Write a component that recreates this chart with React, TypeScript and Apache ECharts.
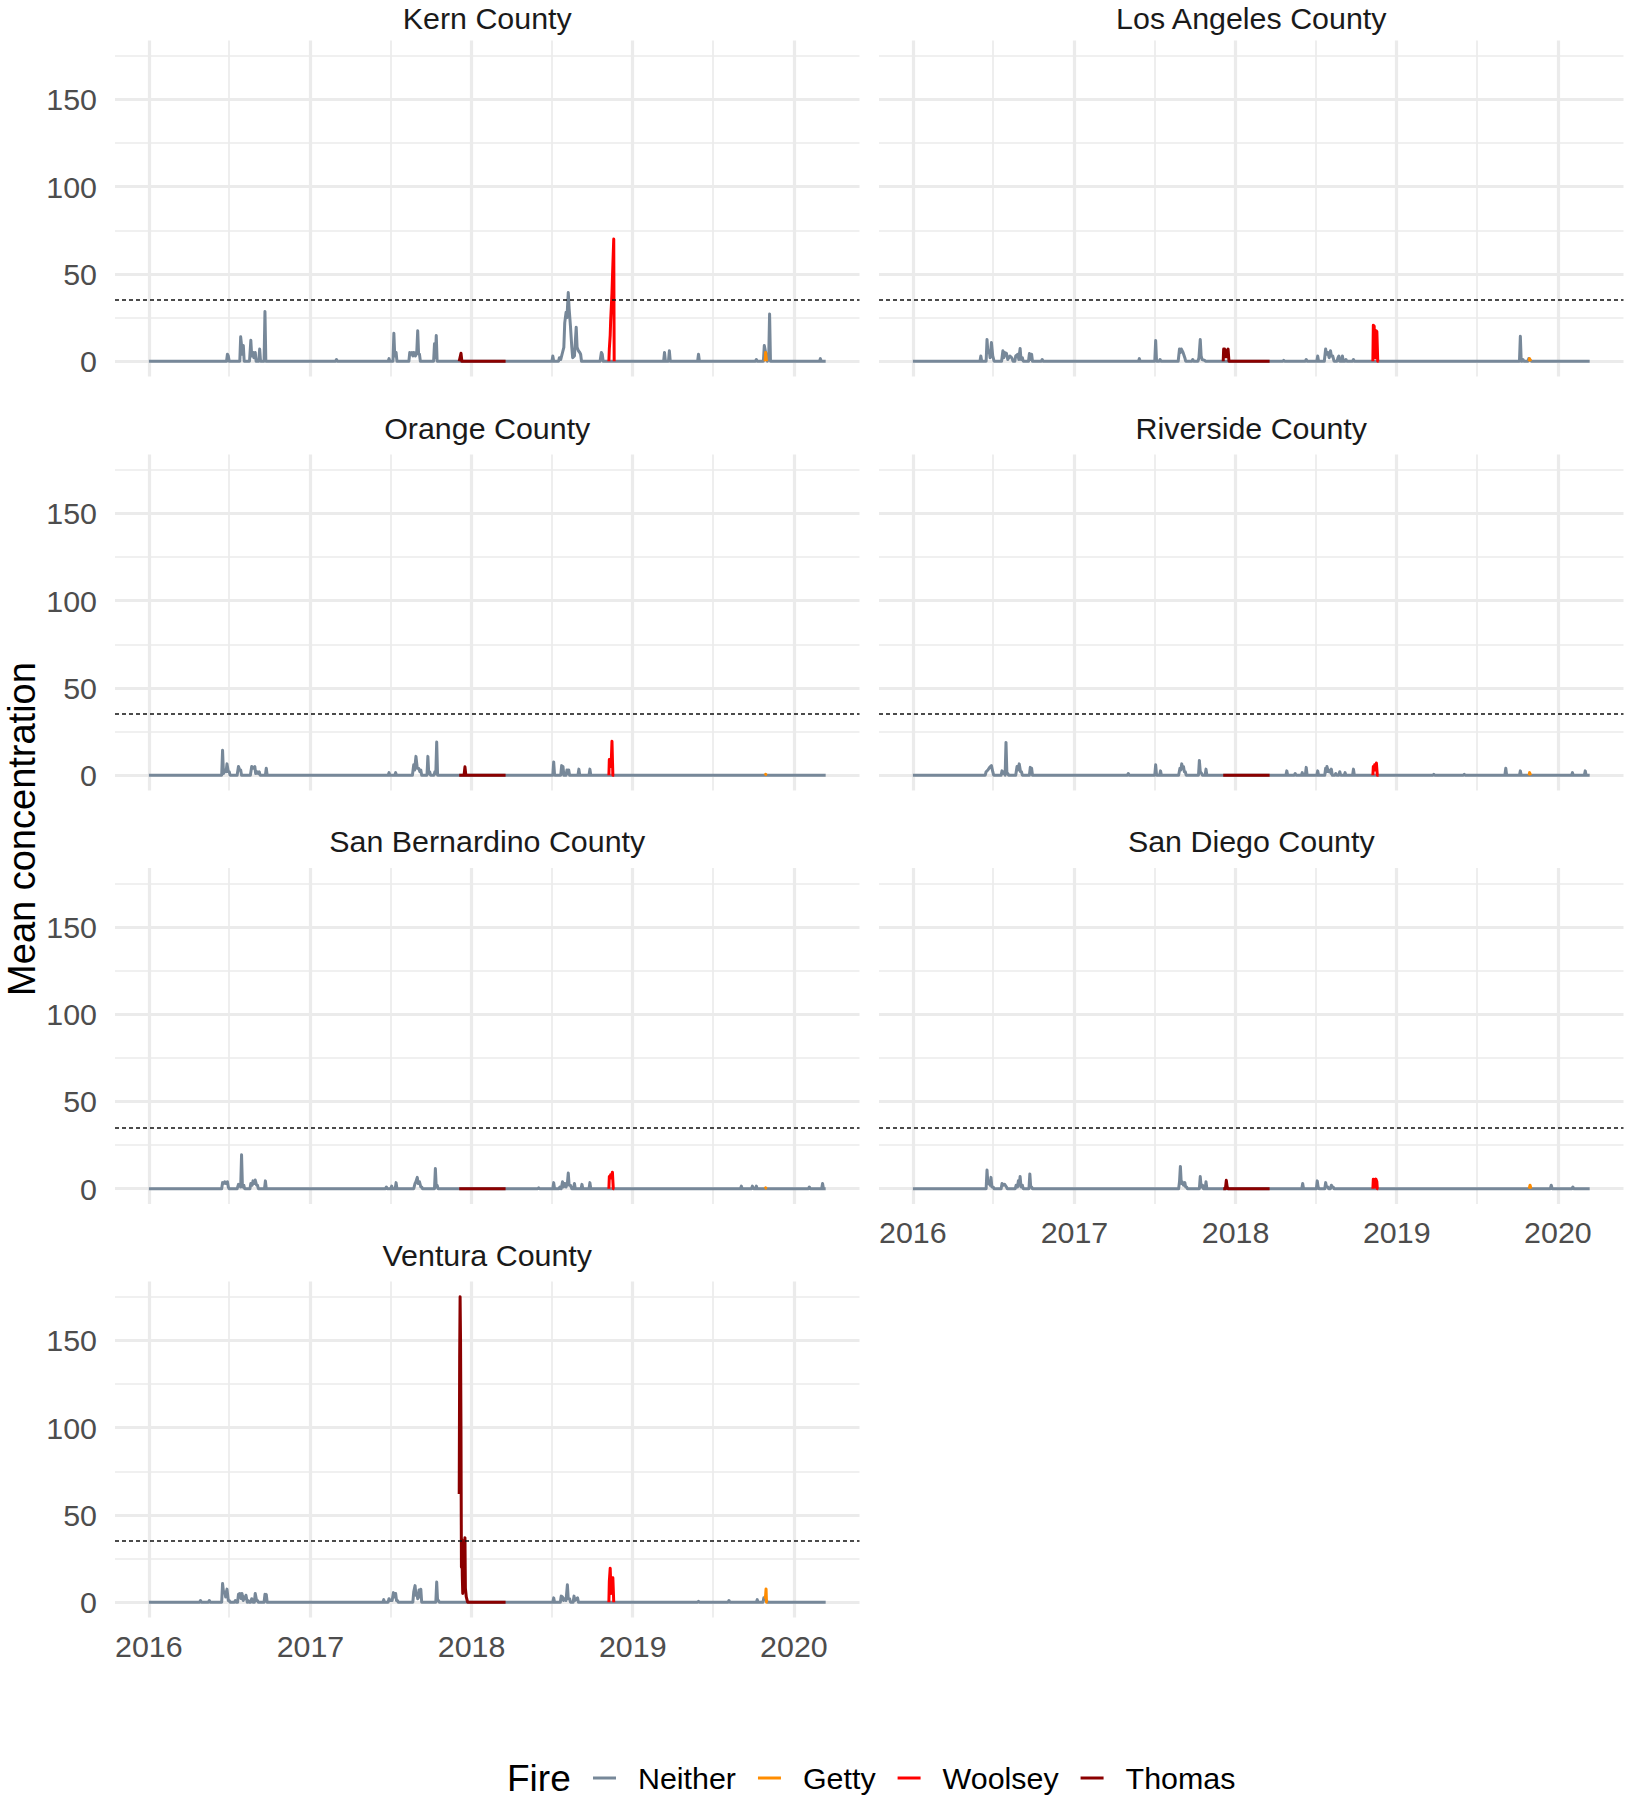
import React, { useEffect, useRef } from "react";
import * as echarts from "echarts";

type Pt = [string, number];

// ---------------- data ----------------
const counties = [
  "Kern County",
  "Los Angeles County",
  "Orange County",
  "Riverside County",
  "San Bernardino County",
  "San Diego County",
  "Ventura County",
];
const fires = ["Neither", "Getty", "Woolsey", "Thomas"];
const fireColors = ["#778899", "#FF8C00", "#FF0000", "#8B0000"];
const yearTicks = ["2016-01-01", "2017-01-01", "2018-01-01", "2019-01-01", "2020-01-01"];
const midYearTicks = ["2016-07-01", "2017-07-01", "2018-07-01", "2019-07-01"];
const yMajorTicks = [0, 50, 100, 150];
const yMinorTicks = [25, 75, 125, 175];
const standardLine = 35;
const axisTitle = "Mean concentration";
const legendTitle = "Fire";

const kernNeither: Pt[] = [
  ["2016-01-01", 0],
  ["2016-06-25", 0], ["2016-06-27", 4], ["2016-06-29", 3], ["2016-07-01", 0],
  ["2016-07-25", 0], ["2016-07-27", 14], ["2016-07-29", 9], ["2016-07-31", 4], ["2016-08-02", 9], ["2016-08-04", 0],
  ["2016-08-16", 0], ["2016-08-19", 12], ["2016-08-21", 3], ["2016-08-24", 5], ["2016-08-26", 2], ["2016-08-29", 5], ["2016-08-31", 0],
  ["2016-09-06", 0], ["2016-09-08", 7], ["2016-09-10", 0],
  ["2016-09-18", 0], ["2016-09-20", 28.5], ["2016-09-22", 0],
  ["2017-02-27", 0], ["2017-03-01", 1], ["2017-03-03", 0],
  ["2017-06-26", 0], ["2017-06-28", 1.5], ["2017-06-30", 0],
  ["2017-07-07", 0], ["2017-07-09", 16], ["2017-07-11", 3], ["2017-07-14", 5], ["2017-07-16", 0],
  ["2017-08-12", 0], ["2017-08-14", 5], ["2017-08-17", 4], ["2017-08-19", 5], ["2017-08-21", 3], ["2017-08-23", 5], ["2017-08-27", 3], ["2017-08-30", 6], ["2017-09-01", 17.5], ["2017-09-03", 4], ["2017-09-05", 4], ["2017-09-07", 0],
  ["2017-10-07", 0], ["2017-10-09", 10], ["2017-10-11", 2], ["2017-10-13", 14.7], ["2017-10-15", 0],
  ["2018-07-02", 0], ["2018-07-04", 3], ["2018-07-06", 0],
  ["2018-07-17", 0], ["2018-07-19", 2], ["2018-07-22", 1], ["2018-07-26", 5], ["2018-07-29", 8], ["2018-07-31", 22], ["2018-08-03", 28], ["2018-08-05", 25], ["2018-08-08", 39.4], ["2018-08-10", 30], ["2018-08-13", 20], ["2018-08-16", 8], ["2018-08-18", 2], ["2018-08-22", 3], ["2018-08-26", 19.5], ["2018-08-28", 8], ["2018-08-31", 6], ["2018-09-03", 5], ["2018-09-05", 4], ["2018-09-07", 0],
  ["2018-10-19", 0], ["2018-10-22", 5], ["2018-10-24", 4], ["2018-10-26", 0],
  ["2019-03-12", 0], ["2019-03-14", 5], ["2019-03-16", 0], ["2019-03-23", 0], ["2019-03-25", 6], ["2019-03-27", 0],
  ["2019-05-28", 0], ["2019-05-30", 4], ["2019-06-01", 0],
  ["2019-10-06", 0], ["2019-10-08", 1], ["2019-10-10", 0],
  ["2019-10-24", 0], ["2019-10-26", 9], ["2019-11-02", 0], ["2019-11-05", 2], ["2019-11-07", 27], ["2019-11-09", 0],
  ["2020-02-28", 0], ["2020-03-01", 1.5], ["2020-03-03", 0], ["2020-03-13", 0],
];
const kernGetty: Pt[] = [["2019-10-28", 0], ["2019-10-29", 5], ["2019-10-31", 0], ["2019-11-01", 0]];
const kernWoolsey: Pt[] = [
  ["2018-11-08", 0], ["2018-11-09", 7], ["2018-11-11", 15], ["2018-11-12", 23], ["2018-11-15", 39], ["2018-11-17", 55], ["2018-11-19", 70], ["2018-11-20", 0], ["2018-11-21", 0],
];
const kernThomas: Pt[] = [["2017-12-04", 0], ["2017-12-08", 4.6], ["2017-12-10", 0], ["2018-03-19", 0]];

const laNeither: Pt[] = [
  ["2016-01-01", 0],
  ["2016-06-01", 0], ["2016-06-03", 3], ["2016-06-05", 0],
  ["2016-06-15", 0], ["2016-06-17", 12.4], ["2016-06-19", 5], ["2016-06-22", 6], ["2016-06-24", 2], ["2016-06-27", 10.7], ["2016-06-30", 3], ["2016-07-03", 0],
  ["2016-07-20", 0], ["2016-07-23", 6], ["2016-07-25", 2], ["2016-07-27", 5], ["2016-07-31", 4.5], ["2016-08-03", 1], ["2016-08-08", 3], ["2016-08-12", 2], ["2016-08-15", 0],
  ["2016-08-19", 0], ["2016-08-21", 3], ["2016-08-26", 4], ["2016-08-28", 1], ["2016-08-31", 7.3], ["2016-09-02", 1], ["2016-09-05", 2], ["2016-09-07", 0],
  ["2016-09-19", 0], ["2016-09-21", 4.4], ["2016-09-24", 1], ["2016-09-26", 4], ["2016-09-28", 0],
  ["2016-10-18", 0], ["2016-10-20", 1], ["2016-10-22", 0],
  ["2017-05-26", 0], ["2017-05-28", 1.5], ["2017-05-30", 0],
  ["2017-07-02", 0], ["2017-07-04", 11.9], ["2017-07-06", 0], ["2017-07-12", 0], ["2017-07-14", 1], ["2017-07-16", 0],
  ["2017-08-24", 0], ["2017-08-27", 7], ["2017-08-29", 5], ["2017-08-31", 7], ["2017-09-04", 5], ["2017-09-08", 2], ["2017-09-10", 0],
  ["2017-09-24", 0], ["2017-09-26", 1], ["2017-09-28", 0],
  ["2017-10-08", 0], ["2017-10-10", 2], ["2017-10-13", 12.4], ["2017-10-15", 3], ["2017-10-17", 1], ["2017-10-23", 0.5], ["2017-10-25", 0],
  ["2018-04-18", 0], ["2018-04-20", 0.5], ["2018-04-22", 0],
  ["2018-06-08", 0], ["2018-06-10", 1], ["2018-06-12", 0],
  ["2018-07-04", 0], ["2018-07-06", 3], ["2018-07-08", 0],
  ["2018-07-21", 0], ["2018-07-24", 7], ["2018-07-26", 4], ["2018-07-29", 5], ["2018-08-01", 2], ["2018-08-04", 6], ["2018-08-06", 3], ["2018-08-09", 3], ["2018-08-12", 0],
  ["2018-08-19", 0], ["2018-08-21", 2], ["2018-08-23", 3], ["2018-08-25", 0], ["2018-08-29", 0], ["2018-08-31", 3], ["2018-09-02", 0],
  ["2018-09-06", 0], ["2018-09-08", 1], ["2018-09-10", 0], ["2018-09-23", 0], ["2018-09-25", 1], ["2018-09-27", 0],
  ["2019-10-06", 0], ["2019-10-08", 14.3], ["2019-10-10", 0], ["2019-10-12", 0], ["2019-10-14", 1], ["2019-10-16", 0],
  ["2019-10-25", 0], ["2019-10-27", 1.5], ["2019-11-02", 0],
  ["2020-03-13", 0],
];
const laGetty: Pt[] = [["2019-10-28", 0], ["2019-10-29", 1.5], ["2019-10-31", 0], ["2019-11-01", 0]];
const laWoolsey: Pt[] = [
  ["2018-11-08", 0], ["2018-11-09", 20.6], ["2018-11-11", 20], ["2018-11-12", 5], ["2018-11-14", 2], ["2018-11-15", 17.5], ["2018-11-17", 17], ["2018-11-19", 0], ["2018-11-21", 0],
];
const laThomas: Pt[] = [
  ["2017-12-04", 0], ["2017-12-05", 7], ["2017-12-07", 7], ["2017-12-09", 2.5], ["2017-12-11", 2.5], ["2017-12-13", 6], ["2017-12-15", 7], ["2017-12-17", 0], ["2018-03-19", 0],
];

const orangeNeither: Pt[] = [
  ["2016-01-01", 0],
  ["2016-06-14", 0], ["2016-06-16", 14.3], ["2016-06-18", 1], ["2016-06-21", 3], ["2016-06-24", 2], ["2016-06-26", 6.5], ["2016-06-29", 2], ["2016-07-01", 2], ["2016-07-03", 0],
  ["2016-07-19", 0], ["2016-07-22", 5], ["2016-07-25", 3], ["2016-07-27", 3], ["2016-07-29", 0],
  ["2016-08-18", 0], ["2016-08-21", 5], ["2016-08-24", 4], ["2016-08-28", 5], ["2016-08-30", 1], ["2016-09-02", 2], ["2016-09-05", 1], ["2016-09-07", 2], ["2016-09-09", 0],
  ["2016-09-21", 0], ["2016-09-23", 4], ["2016-09-25", 0],
  ["2017-06-26", 0], ["2017-06-28", 1.5], ["2017-06-30", 0], ["2017-07-11", 0], ["2017-07-13", 1.5], ["2017-07-15", 0],
  ["2017-08-20", 0], ["2017-08-23", 6], ["2017-08-25", 3], ["2017-08-28", 10.8], ["2017-08-31", 4], ["2017-09-03", 4], ["2017-09-06", 2], ["2017-09-08", 3], ["2017-09-10", 0],
  ["2017-09-22", 0], ["2017-09-24", 10.8], ["2017-09-26", 1], ["2017-09-28", 2], ["2017-09-30", 0],
  ["2017-10-08", 0], ["2017-10-10", 2], ["2017-10-12", 1], ["2017-10-14", 19], ["2017-10-16", 0],
  ["2018-07-04", 0], ["2018-07-06", 7.6], ["2018-07-08", 0],
  ["2018-07-22", 0], ["2018-07-24", 5.5], ["2018-07-26", 2], ["2018-07-27", 5], ["2018-07-29", 0],
  ["2018-08-03", 0], ["2018-08-05", 3], ["2018-08-07", 1], ["2018-08-09", 3], ["2018-08-11", 0],
  ["2018-08-30", 0], ["2018-09-01", 3.5], ["2018-09-03", 0], ["2018-09-24", 0], ["2018-09-26", 3.5], ["2018-09-28", 0],
  ["2020-03-13", 0],
];
const orangeGetty: Pt[] = [["2019-10-28", 0], ["2019-10-29", 0.5], ["2019-10-31", 0]];
const orangeWoolsey: Pt[] = [
  ["2018-11-08", 0], ["2018-11-09", 9], ["2018-11-11", 9], ["2018-11-13", 5], ["2018-11-15", 19.5], ["2018-11-17", 0], ["2018-11-20", 0],
];
const orangeThomas: Pt[] = [["2017-12-04", 0], ["2017-12-15", 0], ["2017-12-17", 4.8], ["2017-12-19", 0], ["2018-03-19", 0]];

const riversideNeither: Pt[] = [
  ["2016-01-01", 0],
  ["2016-06-13", 0], ["2016-06-15", 2], ["2016-06-19", 3], ["2016-06-23", 4.5], ["2016-06-27", 5.5], ["2016-06-30", 2], ["2016-07-02", 0],
  ["2016-07-19", 0], ["2016-07-21", 2.5], ["2016-07-24", 1], ["2016-07-26", 2], ["2016-07-28", 0], ["2016-07-30", 18.8], ["2016-08-01", 1], ["2016-08-03", 1], ["2016-08-05", 0],
  ["2016-08-21", 0], ["2016-08-24", 5], ["2016-08-26", 3], ["2016-08-29", 6.5], ["2016-09-01", 2], ["2016-09-03", 2], ["2016-09-05", 0],
  ["2016-09-21", 0], ["2016-09-23", 4.5], ["2016-09-25", 3], ["2016-09-26", 4], ["2016-09-28", 0],
  ["2017-05-01", 0], ["2017-05-03", 1], ["2017-05-05", 0],
  ["2017-07-02", 0], ["2017-07-04", 6], ["2017-07-06", 0], ["2017-07-13", 0], ["2017-07-15", 2.5], ["2017-07-17", 0],
  ["2017-08-25", 0], ["2017-08-28", 4], ["2017-08-30", 3], ["2017-09-01", 6.5], ["2017-09-03", 4], ["2017-09-05", 5], ["2017-09-07", 2], ["2017-09-09", 2], ["2017-09-11", 0],
  ["2017-10-09", 0], ["2017-10-11", 8.5], ["2017-10-13", 2], ["2017-10-16", 1], ["2017-10-18", 0], ["2017-10-24", 0], ["2017-10-26", 3.5], ["2017-10-28", 0],
  ["2018-04-25", 0], ["2018-04-27", 2.5], ["2018-04-29", 0], ["2018-05-14", 0], ["2018-05-16", 1], ["2018-05-18", 0],
  ["2018-05-30", 0], ["2018-06-01", 1.5], ["2018-06-03", 0], ["2018-06-08", 0], ["2018-06-10", 4.5], ["2018-06-12", 0],
  ["2018-07-04", 0], ["2018-07-06", 2.5], ["2018-07-08", 0],
  ["2018-07-22", 0], ["2018-07-24", 4], ["2018-07-26", 2], ["2018-07-27", 5], ["2018-07-30", 2], ["2018-08-03", 3], ["2018-08-05", 1], ["2018-08-06", 3.5], ["2018-08-08", 0],
  ["2018-08-14", 0], ["2018-08-16", 1], ["2018-08-18", 0], ["2018-08-23", 0], ["2018-08-25", 2], ["2018-08-27", 0],
  ["2018-09-04", 0], ["2018-09-06", 1.5], ["2018-09-08", 0], ["2018-09-23", 0], ["2018-09-25", 3.5], ["2018-09-27", 0],
  ["2019-03-24", 0], ["2019-03-26", 0.5], ["2019-03-28", 0], ["2019-06-01", 0], ["2019-06-03", 0.5], ["2019-06-05", 0],
  ["2019-09-03", 0], ["2019-09-05", 4], ["2019-09-07", 0], ["2019-10-06", 0], ["2019-10-08", 2.5], ["2019-10-10", 0],
  ["2020-02-01", 0], ["2020-02-03", 1.5], ["2020-02-05", 0], ["2020-03-01", 0], ["2020-03-03", 2.5], ["2020-03-05", 0], ["2020-03-13", 0],
];
const riversideGetty: Pt[] = [["2019-10-28", 0], ["2019-10-29", 1.5], ["2019-10-31", 0]];
const riversideWoolsey: Pt[] = [
  ["2018-11-08", 0], ["2018-11-09", 5], ["2018-11-11", 3], ["2018-11-12", 6], ["2018-11-14", 3], ["2018-11-16", 7], ["2018-11-18", 0], ["2018-11-21", 0],
];
const riversideThomas: Pt[] = [["2017-12-04", 0], ["2018-03-19", 0]];

const sbNeither: Pt[] = [
  ["2016-01-01", 0],
  ["2016-06-14", 0], ["2016-06-16", 3.5], ["2016-06-19", 3], ["2016-06-21", 4], ["2016-06-24", 3], ["2016-06-27", 4], ["2016-06-29", 1], ["2016-07-01", 0],
  ["2016-07-19", 0], ["2016-07-22", 2.5], ["2016-07-25", 2], ["2016-07-27", 1], ["2016-07-29", 19.5], ["2016-07-31", 1], ["2016-08-03", 2], ["2016-08-05", 0],
  ["2016-08-17", 0], ["2016-08-19", 3], ["2016-08-22", 2], ["2016-08-24", 4.5], ["2016-08-27", 3], ["2016-08-29", 5], ["2016-09-01", 2], ["2016-09-03", 2], ["2016-09-05", 0],
  ["2016-09-19", 0], ["2016-09-21", 4.5], ["2016-09-23", 0],
  ["2017-06-20", 0], ["2017-06-22", 1], ["2017-06-24", 0], ["2017-07-02", 0], ["2017-07-04", 1.5], ["2017-07-06", 0], ["2017-07-12", 0], ["2017-07-14", 3.5], ["2017-07-16", 0],
  ["2017-08-23", 0], ["2017-08-26", 3], ["2017-08-28", 4], ["2017-08-31", 6.5], ["2017-09-02", 3], ["2017-09-05", 4], ["2017-09-08", 1], ["2017-09-10", 1], ["2017-09-12", 0],
  ["2017-10-09", 0], ["2017-10-11", 11.6], ["2017-10-13", 1], ["2017-10-15", 2], ["2017-10-17", 0],
  ["2018-05-31", 0], ["2018-06-02", 0.5], ["2018-06-04", 0],
  ["2018-07-04", 0], ["2018-07-06", 3.5], ["2018-07-08", 0], ["2018-07-18", 0], ["2018-07-20", 1], ["2018-07-23", 0], ["2018-07-26", 4], ["2018-07-28", 1], ["2018-07-31", 3], ["2018-08-03", 1], ["2018-08-06", 3], ["2018-08-08", 9], ["2018-08-10", 2], ["2018-08-13", 2], ["2018-08-16", 0],
  ["2018-08-20", 0], ["2018-08-22", 3], ["2018-08-24", 0], ["2018-09-06", 0], ["2018-09-08", 2.5], ["2018-09-10", 0], ["2018-09-24", 0], ["2018-09-26", 3.5], ["2018-09-28", 0],
  ["2019-09-02", 0], ["2019-09-04", 1.5], ["2019-09-06", 0], ["2019-09-27", 0], ["2019-09-29", 1.5], ["2019-10-02", 0], ["2019-10-06", 0], ["2019-10-08", 1.5], ["2019-10-10", 0],
  ["2020-02-03", 0], ["2020-02-05", 1], ["2020-02-07", 0], ["2020-03-04", 0], ["2020-03-06", 3], ["2020-03-08", 0], ["2020-03-13", 0],
];
const sbGetty: Pt[] = [["2019-10-28", 0], ["2019-10-29", 0.5], ["2019-10-31", 0]];
const sbWoolsey: Pt[] = [
  ["2018-11-08", 0], ["2018-11-09", 7], ["2018-11-11", 6], ["2018-11-12", 8], ["2018-11-14", 7], ["2018-11-16", 9.5], ["2018-11-18", 0], ["2018-11-20", 0],
];
const sbThomas: Pt[] = [["2017-12-04", 0], ["2018-03-19", 0]];

const sdNeither: Pt[] = [
  ["2016-01-01", 0],
  ["2016-06-15", 0], ["2016-06-17", 10.7], ["2016-06-19", 3], ["2016-06-22", 3], ["2016-06-24", 2], ["2016-06-26", 6.5], ["2016-06-28", 1], ["2016-07-01", 1], ["2016-07-03", 0],
  ["2016-07-19", 0], ["2016-07-21", 3], ["2016-07-24", 2], ["2016-07-27", 2.5], ["2016-07-31", 1], ["2016-08-02", 0],
  ["2016-08-20", 0], ["2016-08-22", 2], ["2016-08-25", 1], ["2016-08-27", 4.5], ["2016-08-29", 2], ["2016-08-31", 7], ["2016-09-02", 1], ["2016-09-05", 2], ["2016-09-07", 0],
  ["2016-09-20", 0], ["2016-09-22", 8.5], ["2016-09-24", 1], ["2016-09-26", 1], ["2016-09-28", 0],
  ["2017-08-25", 0], ["2017-08-27", 4], ["2017-08-29", 12.8], ["2017-08-31", 3], ["2017-09-02", 4], ["2017-09-05", 2], ["2017-09-08", 3.5], ["2017-09-10", 1], ["2017-09-12", 1], ["2017-09-14", 0],
  ["2017-10-11", 0], ["2017-10-13", 7], ["2017-10-15", 1], ["2017-10-18", 2], ["2017-10-20", 0], ["2017-10-24", 0], ["2017-10-26", 4], ["2017-10-28", 0],
  ["2018-05-31", 0], ["2018-06-02", 3], ["2018-06-04", 0],
  ["2018-07-03", 0], ["2018-07-05", 4.5], ["2018-07-07", 1], ["2018-07-09", 0], ["2018-07-22", 0], ["2018-07-24", 3.5], ["2018-07-26", 1], ["2018-07-29", 1], ["2018-07-31", 0],
  ["2018-08-04", 0], ["2018-08-06", 2], ["2018-08-08", 1], ["2018-08-10", 1], ["2018-08-12", 0],
  ["2019-12-15", 0], ["2019-12-17", 2], ["2019-12-19", 0],
  ["2020-02-02", 0], ["2020-02-04", 1], ["2020-02-06", 0], ["2020-03-13", 0],
];
const sdGetty: Pt[] = [["2019-10-28", 0], ["2019-10-30", 2], ["2019-11-01", 0]];
const sdWoolsey: Pt[] = [
  ["2018-11-08", 0], ["2018-11-09", 5.5], ["2018-11-11", 5], ["2018-11-13", 1], ["2018-11-15", 5.5], ["2018-11-17", 4], ["2018-11-18", 0], ["2018-11-20", 0],
];
const sdThomas: Pt[] = [["2017-12-04", 0], ["2017-12-09", 0], ["2017-12-11", 4.8], ["2017-12-13", 1], ["2017-12-15", 0], ["2018-03-19", 0]];

const venturaNeither: Pt[] = [
  ["2016-01-01", 0],
  ["2016-04-25", 0], ["2016-04-27", 1], ["2016-04-29", 0], ["2016-05-15", 0], ["2016-05-17", 1], ["2016-05-19", 0],
  ["2016-06-14", 0], ["2016-06-16", 10.7], ["2016-06-18", 6], ["2016-06-21", 6], ["2016-06-23", 3], ["2016-06-26", 7.5], ["2016-06-29", 1], ["2016-07-01", 1], ["2016-07-03", 0],
  ["2016-07-13", 0], ["2016-07-15", 1], ["2016-07-17", 0], ["2016-07-20", 0], ["2016-07-22", 4.5], ["2016-07-25", 5], ["2016-07-28", 2], ["2016-07-30", 5], ["2016-08-02", 1], ["2016-08-04", 3], ["2016-08-06", 2], ["2016-08-08", 4], ["2016-08-11", 0],
  ["2016-08-13", 1], ["2016-08-15", 0], ["2016-08-19", 0], ["2016-08-21", 2], ["2016-08-24", 0], ["2016-08-27", 0], ["2016-08-29", 5], ["2016-09-01", 1], ["2016-09-03", 1], ["2016-09-05", 0],
  ["2016-09-18", 0], ["2016-09-20", 4.5], ["2016-09-22", 1], ["2016-09-23", 4.5], ["2016-09-25", 0],
  ["2017-06-14", 0], ["2017-06-16", 1.5], ["2017-06-18", 0], ["2017-06-26", 0], ["2017-06-28", 2], ["2017-06-30", 1], ["2017-07-05", 1], ["2017-07-08", 5.5], ["2017-07-10", 3], ["2017-07-13", 5], ["2017-07-15", 1], ["2017-07-17", 1], ["2017-07-19", 0],
  ["2017-08-21", 0], ["2017-08-23", 6], ["2017-08-26", 9.5], ["2017-08-28", 4], ["2017-08-30", 5], ["2017-09-01", 2], ["2017-09-04", 7], ["2017-09-06", 3], ["2017-09-08", 7.5], ["2017-09-10", 0],
  ["2017-10-12", 0], ["2017-10-14", 11.6], ["2017-10-16", 1], ["2017-10-18", 1], ["2017-10-20", 0],
  ["2018-07-04", 0], ["2018-07-06", 2.5], ["2018-07-08", 0], ["2018-07-21", 0], ["2018-07-23", 3.5], ["2018-07-26", 3], ["2018-07-28", 1], ["2018-07-31", 2], ["2018-08-03", 1], ["2018-08-06", 10], ["2018-08-08", 2], ["2018-08-11", 2], ["2018-08-13", 0],
  ["2018-08-19", 0], ["2018-08-21", 3.5], ["2018-08-23", 1], ["2018-08-29", 2.5], ["2018-08-31", 0],
  ["2019-05-28", 0], ["2019-05-30", 0.5], ["2019-06-01", 0], ["2019-08-05", 0], ["2019-08-07", 1], ["2019-08-09", 0],
  ["2019-10-08", 0], ["2019-10-10", 1.5], ["2019-10-12", 0], ["2019-10-23", 0], ["2019-10-25", 2.5], ["2019-10-27", 2], ["2019-11-03", 0],
  ["2020-03-13", 0],
];
const venturaGetty: Pt[] = [["2019-10-28", 2], ["2019-10-29", 4], ["2019-10-30", 7.6], ["2019-10-31", 0], ["2019-11-02", 0]];
const venturaWoolsey: Pt[] = [
  ["2018-11-08", 0], ["2018-11-09", 12], ["2018-11-11", 19.5], ["2018-11-13", 5], ["2018-11-15", 14], ["2018-11-17", 14], ["2018-11-19", 0], ["2018-11-20", 0],
];
const venturaThomas: Pt[] = [
  ["2017-12-04", 62], ["2017-12-05", 140], ["2017-12-06", 175], ["2017-12-07", 150], ["2017-12-08", 99], ["2017-12-09", 20], ["2017-12-10", 36], ["2017-12-11", 15], ["2017-12-12", 5],
  ["2017-12-14", 30], ["2017-12-16", 22], ["2017-12-17", 37], ["2017-12-18", 8], ["2017-12-20", 3], ["2017-12-23", 0], ["2018-03-19", 0],
];

const countySeries: Pt[][][] = [
  [kernNeither, kernGetty, kernWoolsey, kernThomas],
  [laNeither, laGetty, laWoolsey, laThomas],
  [orangeNeither, orangeGetty, orangeWoolsey, orangeThomas],
  [riversideNeither, riversideGetty, riversideWoolsey, riversideThomas],
  [sbNeither, sbGetty, sbWoolsey, sbThomas],
  [sdNeither, sdGetty, sdWoolsey, sdThomas],
  [venturaNeither, venturaGetty, venturaWoolsey, venturaThomas],
];

// ---------------- layout / style ----------------
const FONT = "'Liberation Sans', Arial, Helvetica, sans-serif";
const colLeft = [115, 879];
const panelW = 744.5;
const rowTop = [40.5, 454.5, 868, 1281.5];
const panelH = 336;
const GRID_COLOR = "#EBEBEB";
const SMALL = 30.4;
const LARGE = 38;

function ts(s: string): number {
  const [y, m, d] = s.split("-").map(Number);
  return new Date(y, m - 1, d).getTime();
}

function buildOption() {
  const allPts: Pt[] = [];
  countySeries.forEach((c) => c.forEach((s) => s.forEach((p) => allPts.push(p))));
  const times = allPts.map((p) => ts(p[0]));
  const vals = allPts.map((p) => p[1]);
  const t0 = Math.min(...times);
  const t1 = Math.max(...times);
  const v0 = Math.min(...vals);
  const v1 = Math.max(...vals);
  const xMin = t0 - 0.05 * (t1 - t0);
  const xMax = t1 + 0.05 * (t1 - t0);
  const yMin = v0 - 0.05 * (v1 - v0);
  const yMax = v1 + 0.05 * (v1 - v0);

  const yearTs = yearTicks.map(ts);
  const midTs = midYearTicks.map(ts);

  const grids: any[] = [];
  const xAxes: any[] = [];
  const yAxes: any[] = [];
  const series: any[] = [];
  const graphics: any[] = [];

  counties.forEach((name, i) => {
    const col = i % 2;
    const row = Math.floor(i / 2);
    const left = colLeft[col];
    const top = rowTop[row];
    grids.push({ left, top, width: panelW, height: panelH, containLabel: false, show: false });
    const showX = i === 5 || i === 6;
    const showY = col === 0;
    xAxes.push({
      type: "value",
      gridIndex: i,
      min: xMin,
      max: xMax,
      axisLine: { show: false },
      axisTick: { show: false },
      splitLine: { show: false },
      minorSplitLine: { show: false },
      axisLabel: {
        show: showX,
        customValues: yearTs,
        formatter: (v: number) => String(new Date(v).getFullYear()),
        fontSize: SMALL,
        color: "#4D4D4D",
        fontFamily: FONT,
        margin: 13,
        hideOverlap: false,
      },
    });
    yAxes.push({
      type: "value",
      gridIndex: i,
      min: yMin,
      max: yMax,
      axisLine: { show: false },
      axisTick: { show: false },
      splitLine: { show: false },
      axisLabel: {
        show: showY,
        customValues: yMajorTicks,
        fontSize: SMALL,
        color: "#4D4D4D",
        fontFamily: FONT,
        margin: 18,
      },
    });

    const gl = (w: number) => ({ color: GRID_COLOR, width: w, type: "solid" });
    series.push({
      type: "line",
      name: "grid" + i,
      xAxisIndex: i,
      yAxisIndex: i,
      data: [],
      silent: true,
      z: 1,
      markLine: {
        silent: true,
        symbol: ["none", "none"],
        label: { show: false },
        z: 1,
        animation: false,
        emphasis: { disabled: true },
        data: [
          ...yMinorTicks.map((v) => ({ yAxis: v, lineStyle: gl(1.7) })),
          ...midTs.map((t) => ({ xAxis: t, lineStyle: gl(1.7) })),
          ...yMajorTicks.map((v) => ({ yAxis: v, lineStyle: gl(3.2) })),
          ...yearTs.map((t) => ({ xAxis: t, lineStyle: gl(3.2) })),
        ],
      },
    });

    countySeries[i].forEach((pts, k) => {
      series.push({
        type: "line",
        name: fires[k],
        xAxisIndex: i,
        yAxisIndex: i,
        data: pts.map((p) => [ts(p[0]), p[1]]),
        showSymbol: false,
        symbol: "none",
        silent: true,
        z: 2 + k,
        lineStyle: { color: fireColors[k], width: 3, join: "round" },
        itemStyle: { color: fireColors[k] },
        emphasis: { disabled: true },
      });
    });

    series.push({
      type: "line",
      name: "standard" + i,
      xAxisIndex: i,
      yAxisIndex: i,
      data: [],
      silent: true,
      z: 10,
      markLine: {
        silent: true,
        symbol: ["none", "none"],
        label: { show: false },
        z: 10,
        animation: false,
        emphasis: { disabled: true },
        lineStyle: { color: "#111111", width: 1.5, type: [4, 3] },
        data: [{ yAxis: standardLine }],
      },
    });

    graphics.push({
      type: "text",
      x: left + panelW / 2,
      y: Math.max(top - 27, 17.5),
      silent: true,
      style: {
        text: name,
        fontSize: SMALL,
        fontFamily: FONT,
        fill: "#1A1A1A",
        align: "center",
        verticalAlign: "middle",
      },
    });
  });

  const plotTop = rowTop[0];
  const plotBottom = rowTop[3] + panelH;
  graphics.push({
    type: "text",
    x: 22,
    y: (plotTop + plotBottom) / 2,
    rotation: Math.PI / 2,
    silent: true,
    style: {
      text: axisTitle,
      fontSize: LARGE,
      fontFamily: FONT,
      fill: "#000000",
      align: "center",
      verticalAlign: "middle",
    },
  });
  graphics.push({
    type: "text",
    x: 507,
    y: 1778,
    silent: true,
    style: {
      text: legendTitle,
      fontSize: 37,
      fontFamily: FONT,
      fill: "#000000",
      align: "left",
      verticalAlign: "middle",
    },
  });

  return {
    animation: false,
    backgroundColor: "#FFFFFF",
    textStyle: { fontFamily: FONT },
    grid: grids,
    xAxis: xAxes,
    yAxis: yAxes,
    series,
    graphic: graphics,
    legend: {
      data: fires.map((f) => ({ name: f, icon: "rect" })),
      left: 593,
      top: 1763,
      padding: 0,
      itemWidth: 23,
      itemHeight: 3,
      itemGap: 22,
      selectedMode: false,
      textStyle: { fontSize: SMALL, color: "#000000", fontFamily: FONT, padding: [0, 0, 0, 17] },
    },
    tooltip: { show: false },
  };
}

export default function App() {
  const ref = useRef<HTMLDivElement>(null);
  useEffect(() => {
    if (!ref.current) return;
    const chart = echarts.init(ref.current, null, { renderer: "svg" });
    chart.setOption(buildOption() as any);
    return () => chart.dispose();
  }, []);
  return (
    <div
      ref={ref}
      style={{ position: "absolute", left: 0, top: 0, width: 1625, height: 1800, background: "#FFFFFF" }}
    />
  );
}
